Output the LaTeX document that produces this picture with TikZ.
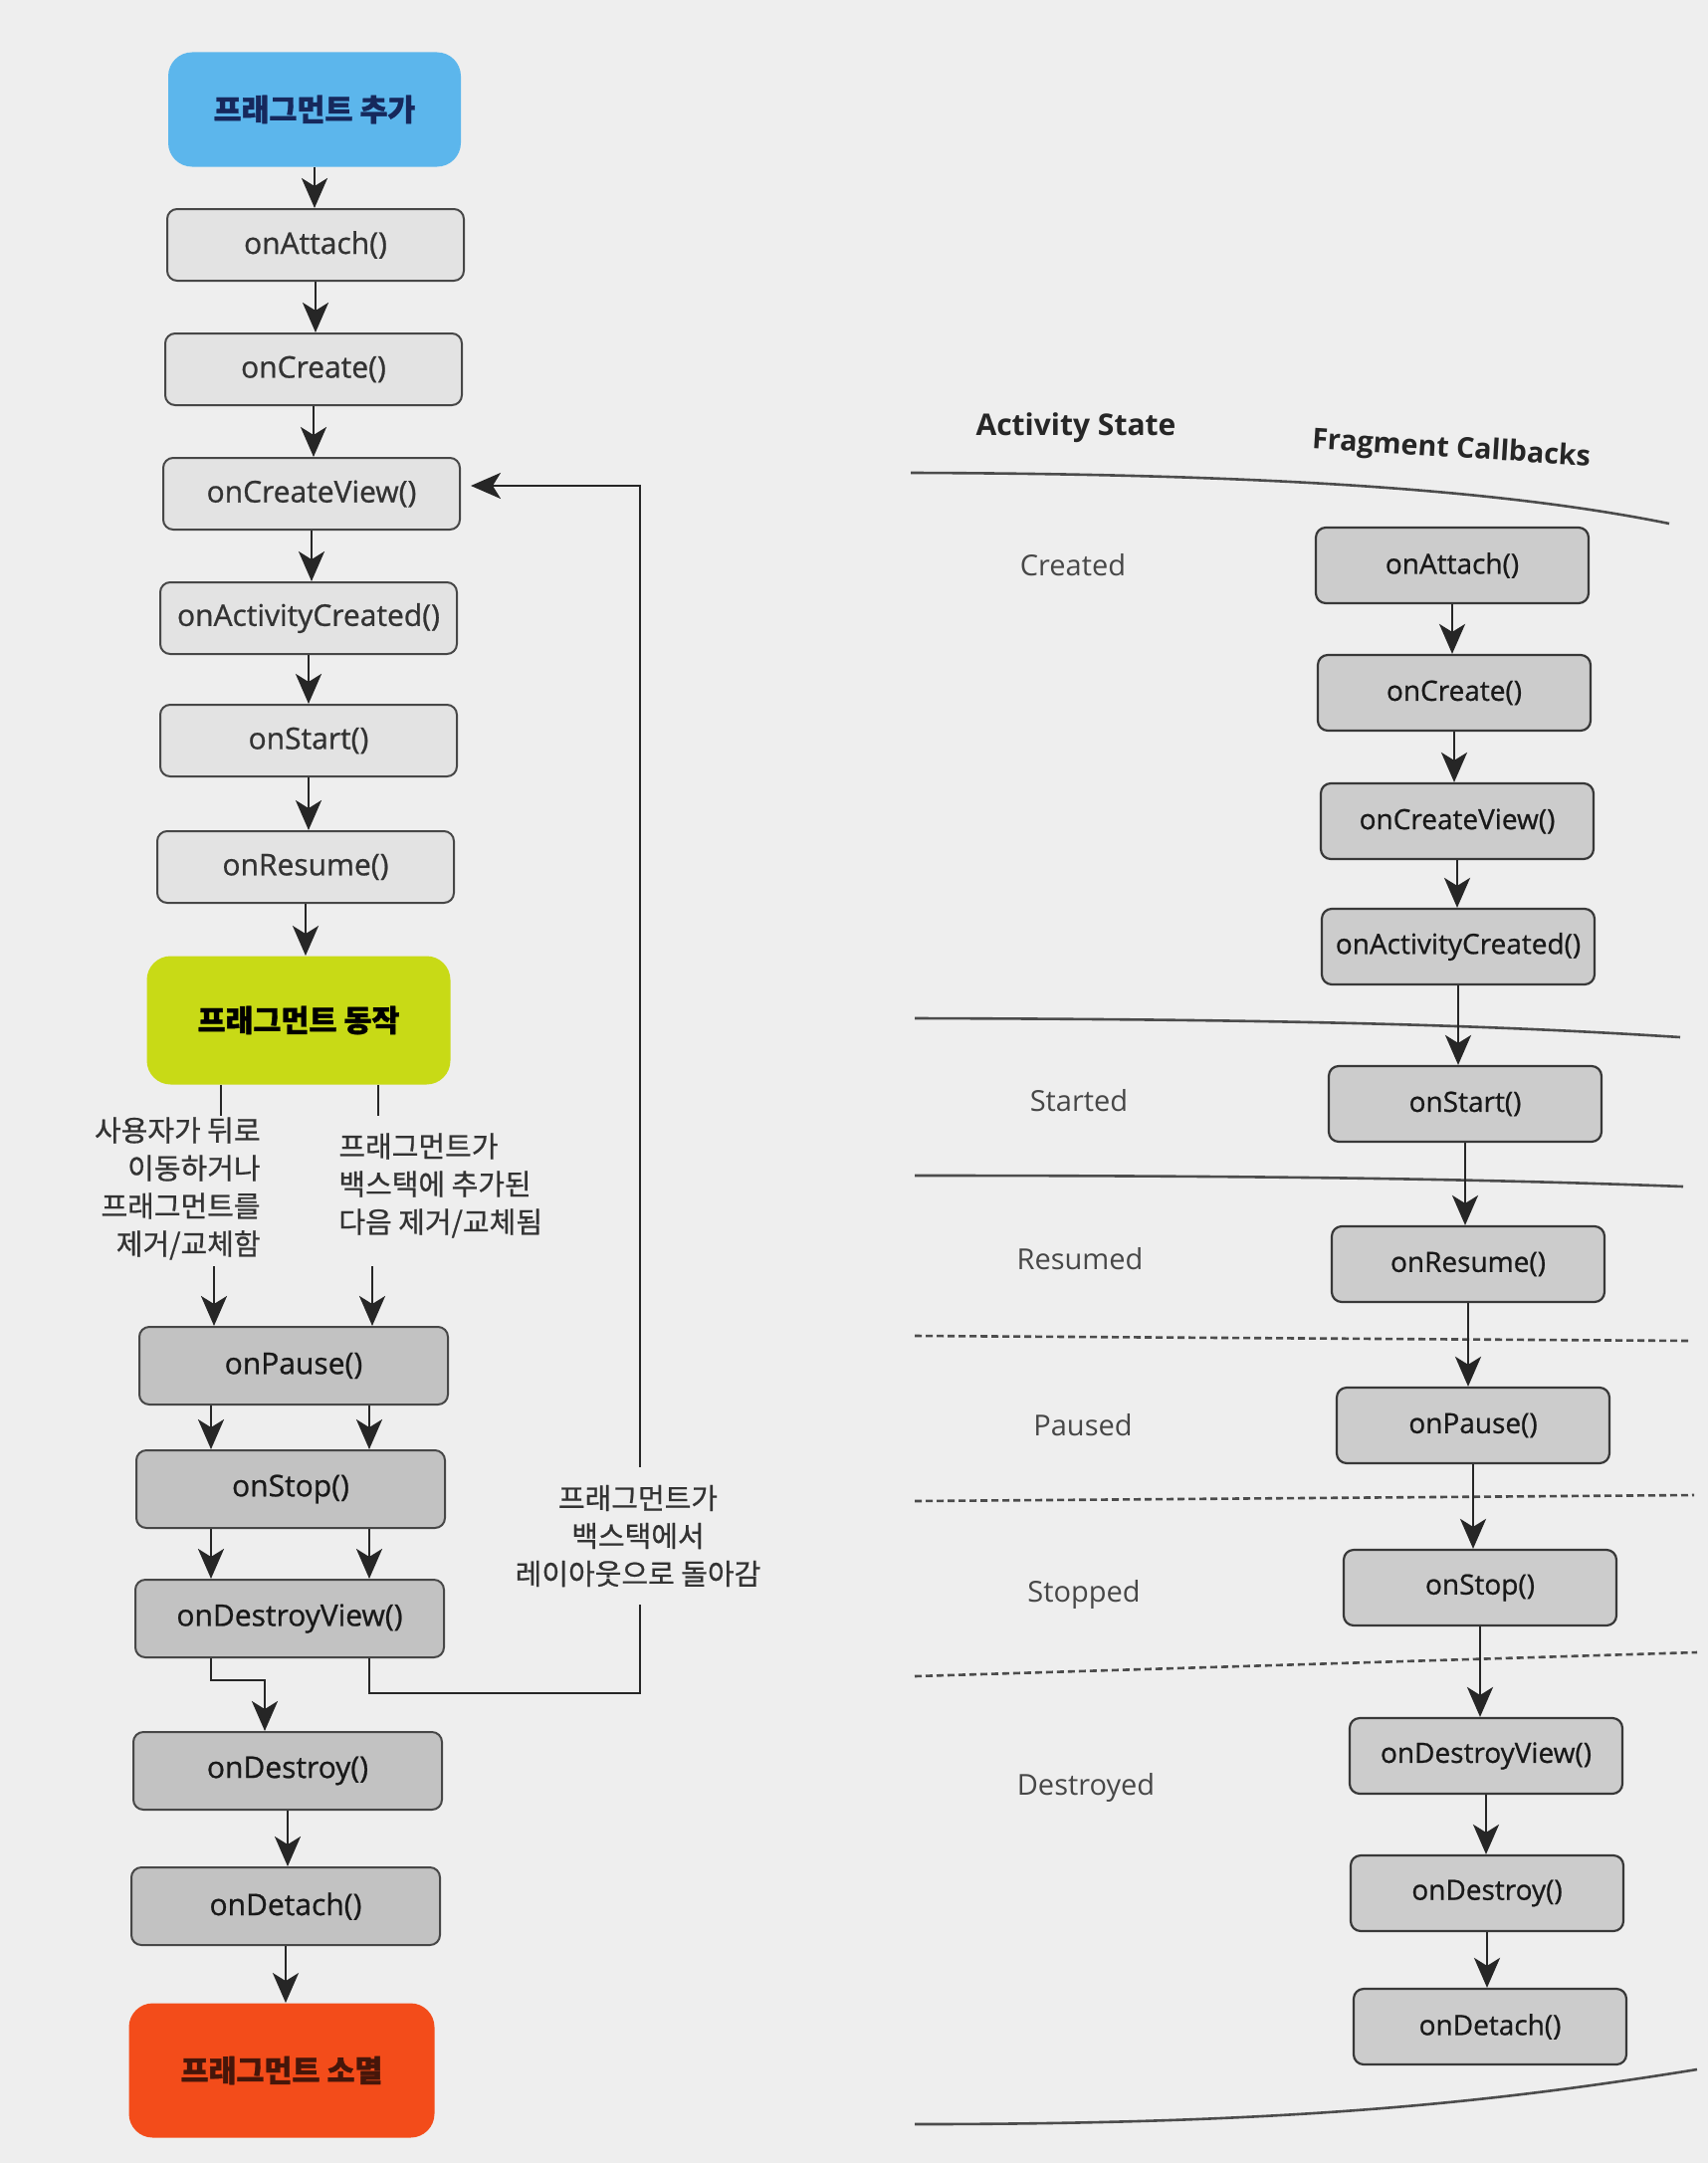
\documentclass[tikz,border=0pt]{standalone}
\usepackage{fontspec}
\setmainfont{Open Sans}
\newfontfamily\cbfont[FakeBold=0.8]{Open Sans}
\newfontfamily\krfont{Noto Sans CJK KR}
\newfontfamily\krmed[FakeBold=0.7]{Noto Sans CJK KR}
\newfontfamily\krheavy[FakeBold=1.2]{Noto Sans CJK KR}
\usetikzlibrary{arrows.meta,calc}
\definecolor{bg}{RGB}{238,238,238}
\definecolor{kblue}{RGB}{92,182,236}
\definecolor{knavy}{RGB}{22,40,92}
\definecolor{kgreen}{RGB}{200,218,22}
\definecolor{kred}{RGB}{243,76,26}
\definecolor{kbrown}{RGB}{70,22,10}
\tikzset{
  lbox/.style={draw=black!72, line width=1pt, fill=gray!22, rounded corners=5pt, minimum width=149pt, minimum height=36pt, inner xsep=2pt, font=\cbfont\fontsize{15}{18}\selectfont, text=black!80},
  dbox/.style={lbox, fill=gray!48, minimum width=155pt, minimum height=39pt, text=black!90},
  rbox/.style={draw=black!78, line width=1.1pt, fill=gray!40, rounded corners=5pt, minimum width=137pt, minimum height=38pt, inner xsep=2pt, font=\cbfont\fontsize{14}{17}\selectfont, text=black!90},
  cbox/.style={rounded corners=12pt, font=\krheavy\bfseries\fontsize{15.2}{18}\selectfont},
  arr/.style={draw=black!85, line width=1.3pt, -{Stealth[length=15pt,width=13pt,inset=4pt]}},
  pline/.style={draw=black!85, line width=1.3pt},
  lbl/.style={font=\krmed\fontsize{14.5}{19}\selectfont, text=black!80, inner sep=0pt},
  stlabel/.style={font=\fontsize{14.5}{17}\selectfont, text=black!72},
  headlabel/.style={font=\bfseries\fontsize{15}{18}\selectfont, text=black!85},
  sepline/.style={draw=black!70, line width=1.3pt},
  dsepline/.style={sepline, dash pattern=on 3.5pt off 2pt},
}
\begin{document}
\begin{tikzpicture}[x=0.5pt,y=-0.5pt]
\fill[bg] (0,0) rectangle (1716,2173);
\useasboundingbox (0,0) rectangle (1716,2173);

% ---------- left column ----------
\node[cbox, fill=kblue, text=knavy, minimum width=147pt, minimum height=57.5pt] (add) at (316,110) {프래그먼트 추가};
\node[lbox] (attach) at (317,246) {onAttach()};
\node[lbox] (create) at (315,371) {onCreate()};
\node[lbox] (cview) at (313,496) {onCreateView()};
\node[lbox] (actc) at (310,621) {onActivityCreated()};
\node[lbox] (start) at (310,744) {onStart()};
\node[lbox] (resume) at (307,871) {onResume()};
\node[cbox, fill=kgreen, text=black, minimum width=152.5pt, minimum height=64.5pt] (run) at (300,1025) {프래그먼트 동작};
\node[lbl, anchor=north east, align=right] (l1) at (262,1122) {사용자가 뒤로\\이동하거나\\프래그먼트를\\제거/교체함};
\node[lbl, anchor=north west, align=left] (l2) at (340,1138) {프래그먼트가\\백스택에 추가된\\다음 제거/교체됨};
\node[dbox] (pause) at (295,1372) {onPause()};
\node[dbox] (stop) at (292,1496) {onStop()};
\node[dbox] (dview) at (291,1626) {onDestroyView()};
\node[dbox] (destroy) at (289,1779) {onDestroy()};
\node[dbox] (detach) at (287,1915) {onDetach()};
\node[cbox, fill=kred, text=kbrown, minimum width=153.5pt, minimum height=67.5pt] (gone) at (283,2080) {프래그먼트 소멸};

\draw[arr] (add.south) -- (add.south |- attach.north);
\draw[arr] (attach.south) -- (attach.south |- create.north);
\draw[arr] (create.south) -- (create.south |- cview.north);
\draw[arr] (cview.south) -- (cview.south |- actc.north);
\draw[arr] (actc.south) -- (actc.south |- start.north);
\draw[arr] (start.south) -- (start.south |- resume.north);
\draw[arr] (resume.south) -- (resume.south |- run.north);

\coordinate (cLa) at (222,0);
\coordinate (cRa) at (380,0);
\draw[pline] (run.south -| cLa) -- ++(0,31);
\draw[pline] (run.south -| cRa) -- ++(0,31);
\coordinate (pa1) at (215,1272);
\coordinate (pa2) at (374,1272);
\draw[arr] (pa1) -- (pa1 |- pause.north);
\draw[arr] (pa2) -- (pa2 |- pause.north);
\coordinate (cL) at (212,0);
\coordinate (cR) at (371,0);
\draw[arr] (pause.south -| cL) -- (stop.north -| cL);
\draw[arr] (pause.south -| cR) -- (stop.north -| cR);
\draw[arr] (stop.south -| cL) -- (dview.north -| cL);
\draw[arr] (stop.south -| cR) -- (dview.north -| cR);
\coordinate (j1) at (266,1688);
\draw[arr] (dview.south -| cL) |- (j1) -- (j1 |- destroy.north);
\draw[arr] (destroy.south) -- (destroy.south |- detach.north);
\draw[arr] (detach.south) -- (detach.south |- gone.north);

\coordinate (lpc) at (643,1701);
\coordinate (lpe) at ([xshift=5pt,yshift=4pt]cview.east);
\draw[arr] (dview.south -| cR) |- (lpc) -- (lpc |- lpe) -- (lpe);
\node[lbl, align=center, fill=bg, inner ysep=9pt, inner xsep=3pt] (back) at (641,1543) {프래그먼트가\\백스택에서\\레이아웃으로 돌아감};

% ---------- right panel ----------
\node[headlabel] (hA) at (1081,430) {Activity State};
\node[headlabel, font=\bfseries\fontsize{14.3}{17}\selectfont, rotate=-3.5] (hF) at (1458,452) {Fragment Callbacks};

\draw[sepline] (915,475) .. controls (1250,476) and (1500,490) .. (1677,526);
\draw[sepline] (919,1023) .. controls (1300,1024) and (1500,1030) .. (1688,1042);
\draw[sepline] (919,1181) .. controls (1300,1181) and (1500,1185) .. (1691,1192);
\draw[dsepline] (919,1342) -- (1696,1347);
\draw[dsepline] (919,1508) -- (1702,1502);
\draw[dsepline] (919,1684) -- (1705,1660);
\draw[sepline] (919,2134) .. controls (1300,2134) and (1500,2112) .. (1705,2079);

\node[stlabel] (sC) at (1078,568) {Created};
\node[stlabel] (sS) at (1084,1106) {Started};
\node[stlabel] (sR) at (1085,1265) {Resumed};
\node[stlabel] (sP) at (1088,1432) {Paused};
\node[stlabel] (sT) at (1089,1602) {Stopped};
\node[stlabel] (sD) at (1091,1796) {Destroyed};

\node[rbox] (ra) at (1459,568) {onAttach()};
\node[rbox] (rb) at (1461,696) {onCreate()};
\node[rbox] (rcv) at (1464,825) {onCreateView()};
\node[rbox] (rac) at (1465,951) {onActivityCreated()};
\node[rbox] (rs) at (1472,1109) {onStart()};
\node[rbox] (rr) at (1475,1270) {onResume()};
\node[rbox] (rp) at (1480,1432) {onPause()};
\node[rbox] (rst) at (1487,1595) {onStop()};
\node[rbox] (rdv) at (1493,1764) {onDestroyView()};
\node[rbox] (rd) at (1494,1902) {onDestroy()};
\node[rbox] (rde) at (1497,2036) {onDetach()};

\draw[arr] (ra.south) -- (ra.south |- rb.north);
\draw[arr] (rb.south) -- (rb.south |- rcv.north);
\draw[arr] (rcv.south) -- (rcv.south |- rac.north);
\draw[arr] (rac.south) -- (rac.south |- rs.north);
\draw[arr] (rs.south) -- (rs.south |- rr.north);
\draw[arr] (rr.south) -- (rr.south |- rp.north);
\draw[arr] (rp.south) -- (rp.south |- rst.north);
\draw[arr] (rst.south) -- (rst.south |- rdv.north);
\draw[arr] (rdv.south) -- (rdv.south |- rd.north);
\draw[arr] (rd.south) -- (rd.south |- rde.north);
\end{tikzpicture}
\end{document}
